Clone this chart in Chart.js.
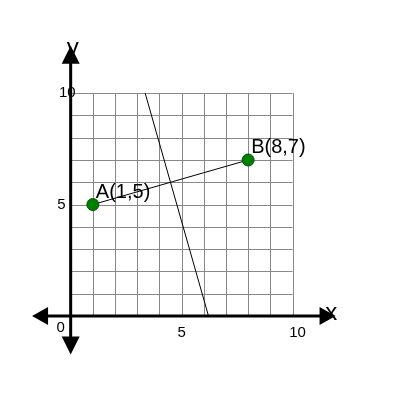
<!DOCTYPE html>
<html><head><meta charset="utf-8">
<script src="https://cdn.jsdelivr.net/npm/chart.js@4/dist/chart.umd.min.js"></script>
<style>html,body{margin:0;padding:0;background:#fff}#wrap{width:400px;height:400px}</style>
</head><body><div id="wrap"><canvas id="c"></canvas></div>
<script>
// datos
const pointNames = ['A(1,5)', 'B(8,7)'];
const pointX = [1, 8];
const pointY = [5, 7];
const bisectorX = [3.357, 6.214];
const bisectorY = [10, 0];
const tickValues = [5, 10];

const gridPlugin = {
    id: 'grid',
    beforeDatasetsDraw(chart) {
        const ctx = chart.ctx, sx = chart.scales.x, sy = chart.scales.y;
        ctx.save();
        ctx.strokeStyle = '#888';
        ctx.lineWidth = 1;
        for (let i = 0; i <= 10; i++) {
            const px = Math.round(sx.getPixelForValue(i)) + 0.5;
            const py = Math.round(sy.getPixelForValue(i)) + 0.5;
            ctx.beginPath();
            ctx.moveTo(px, sy.getPixelForValue(0)); ctx.lineTo(px, sy.getPixelForValue(10));
            ctx.moveTo(sx.getPixelForValue(0), py); ctx.lineTo(sx.getPixelForValue(10), py);
            ctx.stroke();
        }
        // ejes con flechas
        ctx.strokeStyle = '#000'; ctx.fillStyle = '#000'; ctx.lineWidth = 3;
        const x0 = sx.getPixelForValue(0), y0 = sy.getPixelForValue(0);
        const xl = sx.getPixelForValue(-1.2), xr = sx.getPixelForValue(11.4);
        const yt = sy.getPixelForValue(11.5), yb = sy.getPixelForValue(-1.1);
        ctx.beginPath();
        ctx.moveTo(xl, y0); ctx.lineTo(xr, y0);
        ctx.moveTo(x0, yt); ctx.lineTo(x0, yb);
        ctx.stroke();
        const tri = (ax, ay, bx, by, cx, cy) => {
            ctx.beginPath(); ctx.moveTo(ax, ay); ctx.lineTo(bx, by); ctx.lineTo(cx, cy); ctx.closePath(); ctx.fill();
        };
        tri(xl - 12, y0, xl + 4, y0 - 9, xl + 4, y0 + 9);
        tri(xr + 12, y0, xr - 4, y0 - 9, xr - 4, y0 + 9);
        tri(x0, yt - 14, x0 - 9, yt + 4, x0 + 9, yt + 4);
        tri(x0, yb + 14, x0 - 9, yb - 4, x0 + 9, yb - 4);
        // etiquetas
        ctx.font = '15px "Liberation Sans", Arial';
        ctx.textBaseline = 'middle';
        ctx.textAlign = 'center';
        tickValues.forEach(v => ctx.fillText(String(v), sx.getPixelForValue(v) + (v === 10 ? 5 : 0), y0 + 17));
        ctx.fillText('0', x0 - 10, y0 + 12);
        ctx.textAlign = 'right';
        tickValues.forEach(v => ctx.fillText(String(v), x0 + (v === 10 ? 5 : -5), sy.getPixelForValue(v)));
        ctx.font = '24px "Liberation Sans", Arial';
        ctx.textAlign = 'center';
        ctx.fillText('x', sx.getPixelForValue(11.75), y0 - 3);
        ctx.fillText('y', x0 + 2, sy.getPixelForValue(12.0));
        ctx.restore();
    },
    afterDatasetsDraw(chart) {
        const ctx = chart.ctx, sx = chart.scales.x, sy = chart.scales.y;
        ctx.save();
        ctx.font = '20px "Liberation Sans", Arial';
        ctx.fillStyle = '#000';
        ctx.textAlign = 'left'; ctx.textBaseline = 'bottom';
        pointNames.forEach((n, i) => ctx.fillText(n, sx.getPixelForValue(pointX[i]) + 3, sy.getPixelForValue(pointY[i]) - 2));
        ctx.restore();
    }
};

new Chart(document.getElementById('c'), {
    type: 'scatter',
    data: {
        datasets: [
            {
                data: pointX.map((x, i) => ({ x, y: pointY[i] })),
                showLine: true, borderColor: '#000', borderWidth: 1,
                pointRadius: 6, pointBackgroundColor: '#008000', pointBorderColor: '#004d00', pointBorderWidth: 1
            },
            {
                data: bisectorX.map((x, i) => ({ x, y: bisectorY[i] })),
                showLine: true, borderColor: '#000', borderWidth: 1, pointRadius: 0
            }
        ]
    },
    options: {
        responsive: true, maintainAspectRatio: false, animation: false,
        layout: { padding: 0 },
        plugins: { legend: { display: false }, tooltip: { enabled: false } },
        scales: {
            x: { type: 'linear', min: -2.87, max: 14.53, display: false },
            y: { type: 'linear', min: -3.45, max: 13.86, display: false }
        }
    },
    plugins: [gridPlugin]
});
</script></body></html>
